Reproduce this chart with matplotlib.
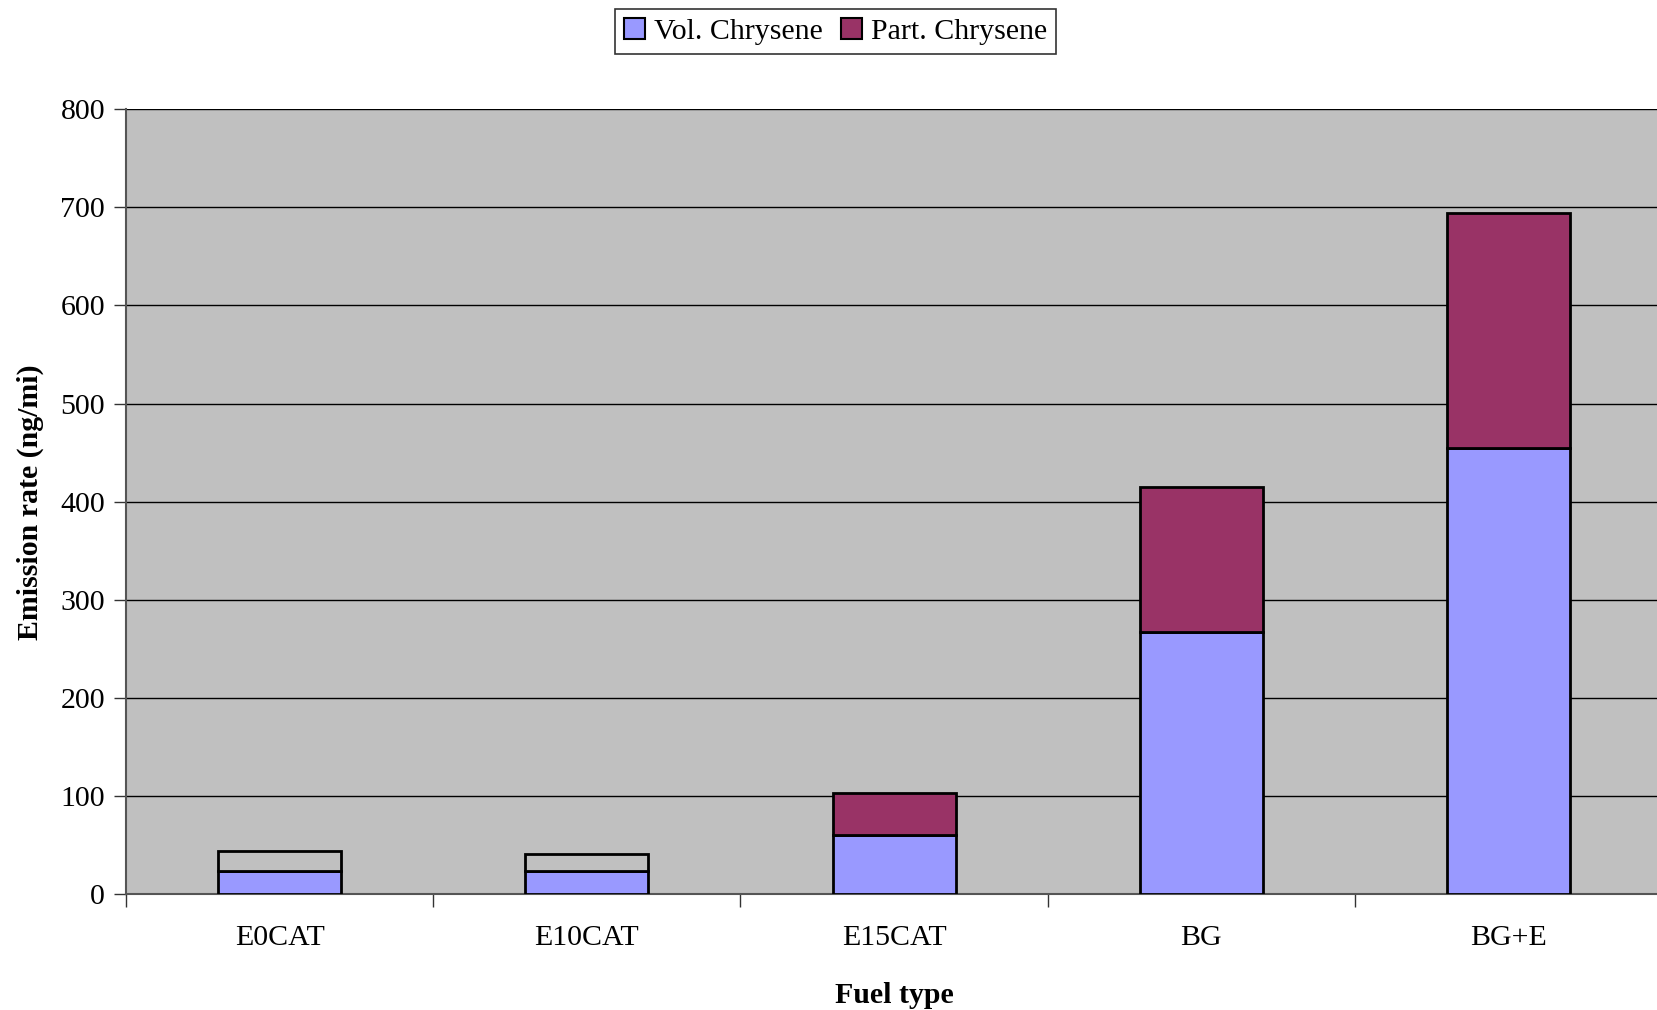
import matplotlib
matplotlib.use("Agg")
import matplotlib.pyplot as plt
from matplotlib.patches import Patch
import numpy as np

fuels = ["E0CAT", "E10CAT", "E15CAT", "BG", "BG+E"]
vol_chrysene = [23.7, 23.7, 60.3, 267.0, 454.5]
part_chrysene = [20.5, 17.0, 43.0, 148.5, 240.0]
y_ticks = [0, 100, 200, 300, 400, 500, 600, 700, 800]

bg = "#C0C0C0"
vol_color = "#9999FF"
part_color = "#993366"
# the two smallest particulate segments are drawn unfilled (plot background shows through)
part_fill = [bg, bg, part_color, part_color, part_color]

plt.rcParams["font.family"] = ["Liberation Serif", "DejaVu Serif"]
fs = 21.5

fig = plt.figure(figsize=(16.58, 10.10), dpi=100)
ax = fig.add_axes([0.076, 0.1144, 0.9265, 0.7776])
ax.set_facecolor(bg)

x = np.arange(len(fuels))
w = 0.40
ax.bar(x, vol_chrysene, width=w, color=vol_color, edgecolor="black", linewidth=2, zorder=3)
ax.bar(x, part_chrysene, width=w, bottom=vol_chrysene, color=part_fill,
       edgecolor="black", linewidth=2, zorder=3)

ax.set_xlim(-0.5, len(fuels) - 0.5)
ax.set_ylim(0, 800)
ax.set_yticks(y_ticks)
ax.yaxis.grid(True, color="black", linewidth=1.0, zorder=1)
ax.set_axisbelow(True)

# boundary ticks between categories, labels centred under each bar
ax.set_xticks(np.arange(len(fuels) + 1) - 0.5)
ax.set_xticklabels([])
ax.set_xticks(x, minor=True)
ax.set_xticklabels(fuels, minor=True)
ax.tick_params(axis="x", which="major", direction="out", length=9, width=1, color="#333333")
ax.tick_params(axis="x", which="minor", length=0, pad=22, labelsize=fs)
ax.tick_params(axis="y", direction="out", length=9, width=1, color="#333333", labelsize=fs, pad=6)

for side in ["top", "right"]:
    ax.spines[side].set_visible(False)
for side in ["left", "bottom"]:
    ax.spines[side].set_color("#555555")
    ax.spines[side].set_linewidth(1.5)

ax.set_xlabel("Fuel type", fontsize=fs, fontweight="bold", labelpad=22)
ax.set_ylabel("Emission rate (ng/mi)", fontsize=fs, fontweight="bold", labelpad=12)

handles = [Patch(facecolor=vol_color, edgecolor="black", linewidth=1.5, label="Vol. Chrysene"),
           Patch(facecolor=part_color, edgecolor="black", linewidth=1.5, label="Part. Chrysene")]
leg = fig.legend(handles=handles, loc="upper center", bbox_to_anchor=(0.504, 0.997), ncol=2,
                 fontsize=fs, frameon=True, fancybox=False, edgecolor="black",
                 handlelength=0.7, handleheight=0.7, handletextpad=0.3, columnspacing=0.6,
                 borderpad=0.3, borderaxespad=0.2)
leg.get_frame().set_linewidth(1.2)

fig.savefig("out.png", dpi=100)
